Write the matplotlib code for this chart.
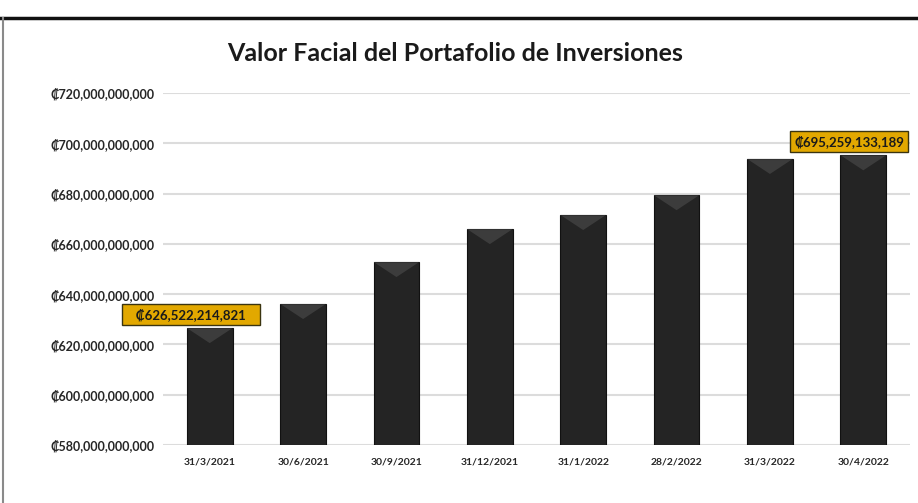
import matplotlib.pyplot as plt
import matplotlib.patches as mpatches
import numpy as np
from matplotlib.ticker import FuncFormatter

# data (values in colones)
fechas = ['31/3/2021', '30/6/2021', '30/9/2021', '31/12/2021',
          '31/1/2022', '28/2/2022', '31/3/2022', '30/4/2022']
valores = [626522214821, 636100000000, 652800000000, 665900000000,
           671500000000, 679400000000, 693800000000, 695259133189]
etiquetas = {0: '   ₡626,522,214,821   ', 7: '₡695,259,133,189'}

fuente = ['Lato', 'DejaVu Sans']
plt.rcParams['font.family'] = fuente

fig = plt.figure(figsize=(9.18, 5.03), dpi=100)
ax = fig.add_axes([0.1776, 0.1153, 0.8137, 0.6998])

x = np.arange(len(fechas))
bars = ax.bar(x, valores, width=0.49, color='#242424', edgecolor='#111111',
              linewidth=0.8, zorder=3)

# bevel-ish highlight at top of each bar
for b in bars:
    x0 = b.get_x()
    w = b.get_width()
    top = b.get_height()
    h = 6e9
    tri = mpatches.Polygon([[x0, top], [x0 + w, top], [x0 + w * 0.5, top - h]],
                           closed=True, facecolor='#5a5a5a', edgecolor='none',
                           alpha=0.45, zorder=4)
    ax.add_patch(tri)

ax.set_ylim(580e9, 720e9)
ax.set_xlim(-0.5, len(fechas) - 0.5)
ax.set_yticks(np.arange(580e9, 720e9 + 1, 20e9))
ax.yaxis.set_major_formatter(FuncFormatter(lambda v, p: '₡{:,.0f}'.format(v)))
ax.set_xticks(x)
ax.set_xticklabels(fechas)

ax.grid(axis='y', color='#dcdcdc', linewidth=1.5, zorder=0)
for s in ax.spines.values():
    s.set_visible(False)
ax.tick_params(length=0, labelcolor='#262626')
ax.tick_params(axis='y', pad=6, labelsize=9)
ax.tick_params(axis='x', pad=9, labelsize=7.5)
for t in ax.get_yticklabels() + ax.get_xticklabels():
    t.set_fontweight('bold')

for i, txt in etiquetas.items():
    dx = -0.2 if i == 0 else -0.15
    ax.text(x[i] + dx, valores[i] + 5.3e9, txt, ha='center', va='center',
            fontsize=9.5, fontweight='bold', color='#1a1a1a', zorder=6,
            bbox=dict(boxstyle='square,pad=0.3', facecolor='#E2A800',
                      edgecolor='#3a3410', linewidth=1.0))

fig.text(0.496, 0.893, 'Valor Facial del Portafolio de Inversiones',
         ha='center', va='center', fontsize=18, fontweight='bold',
         color='#1a1a1a')

# outer frame lines (top and left)
fig.add_artist(plt.Line2D([0, 1], [0.9642, 0.9642], color='#111111',
                          linewidth=2.5, transform=fig.transFigure))
fig.add_artist(plt.Line2D([0.0038, 0.0038], [0, 0.9642], color='#8a8a8a',
                          linewidth=1.5, transform=fig.transFigure))

fig.savefig('out.png', dpi=100)
